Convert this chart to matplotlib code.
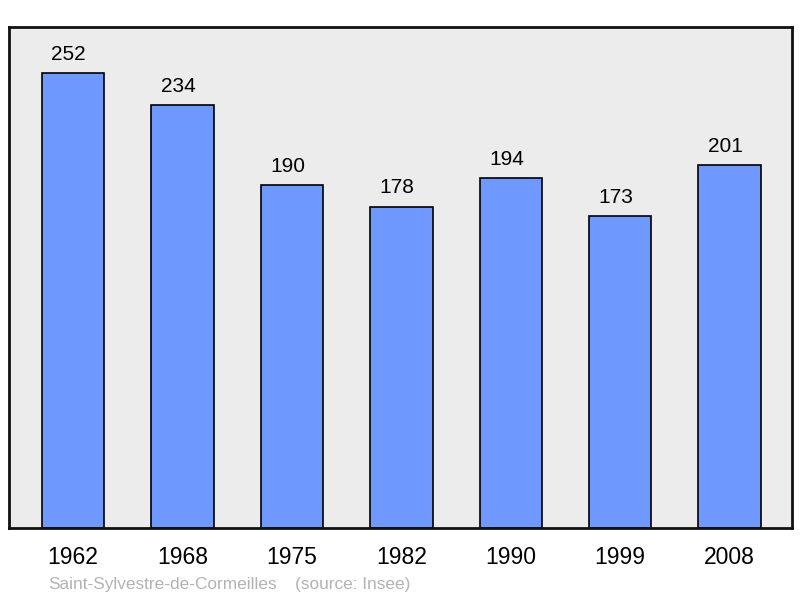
import numpy as np
import matplotlib
matplotlib.use('Agg')
import matplotlib.pyplot as plt

# Datos
annees = ['1962', '1968', '1975', '1982', '1990', '1999', '2008']
population = [252, 234, 190, 178, 194, 173, 201]
commune = 'Saint-Sylvestre-de-Cormeilles'
source = '(source: Insee)'

plt.rcParams['font.family'] = ['Liberation Sans', 'DejaVu Sans']

fig = plt.figure(figsize=(8.0, 5.98), dpi=100)
ax = fig.add_axes([9 / 800, 1 - 528 / 598, 783 / 800, 501 / 598])
ax.set_facecolor('#ececec')

x = np.arange(len(annees))
ax.bar(x, population, width=0.57, color='#7099ff', edgecolor='black', linewidth=1.2, zorder=2)

for xi, val in zip(x, population):
    ax.text(xi - 0.04, val + 5, str(val), ha='center', va='bottom', fontsize=15)

ax.set_xlim(-0.585, 6.57)
ax.set_ylim(0, 277.4)
ax.set_yticks([])
ax.set_xticks(x)
ax.set_xticklabels(annees, fontsize=16.5)
ax.tick_params(axis='x', length=0, pad=13)
for s in ax.spines.values():
    s.set_linewidth(2)
    s.set_color('#111111')

fig.text(48 / 800, 1 - 584 / 598, commune, fontsize=12.4, color='#b3b3b3', va='center')
fig.text(295 / 800, 1 - 584 / 598, source, fontsize=12.4, color='#b3b3b3', va='center')

fig.savefig('out.png', dpi=100)
